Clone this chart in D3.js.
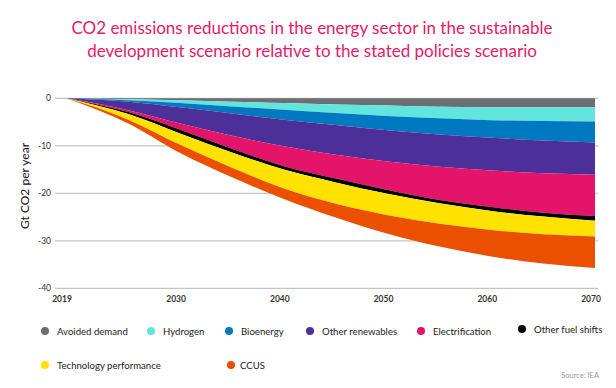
<!DOCTYPE html>
<html>
<head>
<meta charset="utf-8">
<script src="https://cdn.jsdelivr.net/npm/d3@7"></script>
<style>
  body { margin: 0; background: #fff; }
  svg { display: block; font-family: Lato, "Open Sans", sans-serif; }
</style>
</head>
<body>
<div id="chart"></div>
<script>
const W = 616
const H = 388

const years = [2019, 2022, 2025, 2030, 2035, 2040, 2045, 2050, 2055, 2060, 2065, 2070]
const seriesNames = ['Avoided demand', 'Hydrogen', 'Bioenergy', 'Other renewables', 'Electrification', 'Other fuel shifts', 'Technology performance', 'CCUS']
const colors = ['#6d6e71', '#62e5dd', '#0079c1', '#4d2f9a', '#e31469', '#000000', '#ffe200', '#ea5000']

// Gt CO2 per year, each a reduction (negative)
const avoidedDemand = [0, -0.08, -0.2, -0.4, -0.7, -1.0, -1.3, -1.5, -1.8, -1.9, -1.9, -1.9]
const hydrogen = [0, -0.07, -0.2, -0.6, -1.0, -1.4, -1.8, -2.2, -2.4, -2.7, -2.9, -3.0]
const bioenergy = [0, -0.15, -0.3, -0.9, -1.5, -2.1, -2.5, -3.0, -3.4, -3.7, -4.1, -4.4]
const otherRenewables = [0, -0.8, -1.8, -3.4, -4.7, -5.6, -6.3, -6.6, -6.8, -6.9, -6.9, -6.8]
const electrification = [0, -0.2, -0.4, -1.3, -2.7, -4.2, -5.0, -6.0, -7.0, -7.7, -8.3, -8.7]
const otherFuelShifts = [0, -0.2, -0.4, -0.8, -0.8, -0.7, -0.8, -0.8, -0.7, -0.8, -0.8, -1.0]
const techPerformance = [0, -0.5, -1.2, -2.4, -3.2, -4.0, -4.5, -4.5, -4.3, -4.0, -3.7, -3.3]
const ccus = [0, -0.4, -0.8, -1.7, -2.0, -2.2, -2.9, -3.9, -4.8, -5.6, -6.2, -6.6]

const yTicks = [0, -10, -20, -30, -40]
const xTicks = [2019, 2030, 2040, 2050, 2060, 2070]

const allSeries = [avoidedDemand, hydrogen, bioenergy, otherRenewables, electrification, otherFuelShifts, techPerformance, ccus]
const table = years.map((yr, i) => {
  const row = {year: yr}
  seriesNames.forEach((n, k) => { row[n] = allSeries[k][i] })
  return row
})

const x = d3.scaleLinear().domain([2019, 2070]).range([66, 595])
const y = d3.scaleLinear().domain([0, -40]).range([98.3, 288.3])

const svg = d3.select('#chart').append('svg').attr('width', W).attr('height', H)

// title
svg.append('text')
  .attr('text-anchor', 'middle')
  .attr('fill', '#e5196b')
  .attr('font-size', 17)
  .call(t => {
    t.append('tspan').attr('x', W / 2 + 4).attr('y', 34).text('CO2 emissions reductions in the energy sector in the sustainable')
    t.append('tspan').attr('x', W / 2 + 4).attr('y', 57).text('development scenario relative to the stated policies scenario')
  })

// grid
svg.selectAll('line.grid')
  .data(yTicks)
  .enter()
  .append('line')
  .attr('class', 'grid')
  .attr('x1', 55).attr('x2', 598)
  .attr('y1', d => y(d)).attr('y2', d => y(d))
  .attr('stroke', '#c4c4c4').attr('stroke-width', 1.3)

svg.selectAll('text.ytick')
  .data(yTicks)
  .enter()
  .append('text')
  .attr('class', 'ytick')
  .attr('x', 51).attr('y', d => y(d)).attr('dy', 3)
  .attr('text-anchor', 'end').attr('font-size', 8.5).attr('fill', '#333')
  .text(d => d)

// stacked areas
const stack = d3.stack().keys(seriesNames).offset(d3.stackOffsetDiverging)
const layers = stack(table)

const area = d3.area()
  .x(d => x(d.data.year))
  .y0(d => y(d[0]))
  .y1(d => y(d[1]))
  .curve(d3.curveMonotoneX)

svg.selectAll('path.layer')
  .data(layers)
  .enter()
  .append('path')
  .attr('class', 'layer')
  .attr('d', area)
  .attr('fill', (d, i) => colors[i])

// x axis labels
svg.selectAll('text.xtick')
  .data(xTicks)
  .enter()
  .append('text')
  .attr('class', 'xtick')
  .attr('x', d => x(d)).attr('dx', -4).attr('y', 302)
  .attr('text-anchor', 'middle').attr('font-size', 8.5).attr('font-weight', 700).attr('fill', '#333')
  .text(d => d)

// y axis title
svg.append('text')
  .attr('transform', 'translate(29, 186) rotate(-90)')
  .attr('text-anchor', 'middle').attr('font-size', 12).attr('fill', '#111')
  .text('Gt CO2 per year')

// legend
const legendPos = [[45, 331], [151, 331], [229, 331], [310, 331], [421, 331], [522, 329], [45, 365], [231, 365]]
const leg = svg.selectAll('g.legend')
  .data(seriesNames)
  .enter()
  .append('g')
  .attr('class', 'legend')
  .attr('transform', (d, i) => `translate(${legendPos[i][0]}, ${legendPos[i][1]})`)

leg.append('circle').attr('r', 4).attr('fill', (d, i) => colors[i])
leg.append('text')
  .attr('x', (d, i) => i === 7 ? 9 : 12).attr('dy', 3.5)
  .attr('font-size', 9.6).attr('fill', '#222')
  .text(d => d)

svg.append('text')
  .attr('x', 599).attr('y', 378)
  .attr('text-anchor', 'end').attr('font-size', 7.5).attr('fill', '#999')
  .text('Source: IEA')
</script>
</body>
</html>
